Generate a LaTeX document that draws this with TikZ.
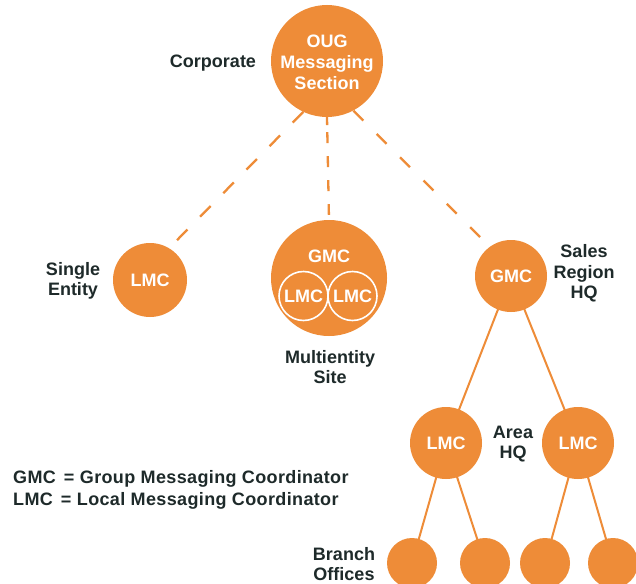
\documentclass[tikz,border=0pt]{standalone}
\usepackage{fontspec}
\setmainfont{Liberation Sans}
\usetikzlibrary{backgrounds}
\definecolor{orng}{RGB}{238,140,56}
\definecolor{ink}{RGB}{30,42,42}
\begin{document}
\begin{tikzpicture}[x=1pt,y=-1pt,
  every node/.style={font=\bfseries\fontsize{18}{21}\selectfont},
  blob/.style={circle,fill=orng,inner sep=0pt,text=white},
  lbl/.style={anchor=base,text=ink,inner sep=0pt},
  legtxt/.style={anchor=base west,text=ink,inner sep=0pt,font=\bfseries\fontsize{18}{21}\selectfont\addfontfeature{LetterSpace=2.0}},
  wtxt/.style={anchor=base,text=white,inner sep=0pt},
  dashline/.style={draw=orng,line width=2.3pt},
  solidline/.style={draw=orng,line width=2pt}]
\useasboundingbox (0,0) rectangle (636,583);

% top
\node[blob,minimum size=112pt] (top) at (327,61) {};
\node[wtxt] (t1) at (327,48) {OUG};
\node[wtxt] (t2) at (327,69) {Messaging};
\node[wtxt] (t3) at (327,90) {Section};
\node[lbl] (corp) at (213,68) {Corporate};

% single entity
\node[blob,minimum size=74pt] (single) at (150,280) {LMC};
\node[lbl] (se1) at (73,275) {Single};
\node[lbl] (se2) at (73,295) {Entity};

% multientity
\node[blob,minimum size=116pt] (multi) at (329,278) {};
\node[wtxt] (gmc) at (329,262) {GMC};
\node[blob,draw=white,line width=1.6pt,minimum size=49pt] (mlA) at (303.5,296) {LMC};
\node[blob,draw=white,line width=1.6pt,minimum size=49pt] (mlB) at (352.5,296) {LMC};
\node[lbl] (me1) at (330,363) {Multientity};
\node[lbl] (me2) at (330,383) {Site};

% sales region
\node[blob,minimum size=72pt] (sales) at (511,276) {GMC};
\node[lbl] (sr1) at (584,257) {Sales};
\node[lbl] (sr2) at (584,278) {Region};
\node[lbl] (sr3) at (584,298) {HQ};

% area
\node[blob,minimum size=72pt] (areaA) at (446,443) {LMC};
\node[blob,minimum size=72pt] (areaB) at (578,443) {LMC};
\node[lbl] (ah1) at (513,438) {Area};
\node[lbl] (ah2) at (513,458) {HQ};

% branches
\node[blob,minimum size=50pt] (b1) at (412,563) {};
\node[blob,minimum size=50pt] (b2) at (485,563) {};
\node[blob,minimum size=50pt] (b3) at (545,563) {};
\node[blob,minimum size=50pt] (b4) at (613,563) {};
\node[lbl] (bo1) at (344,560) {Branch};
\node[lbl] (bo2) at (344,580) {Offices};

% legend
\node[legtxt] (leg1) at (13,483) {GMC\hspace{0.45em}=\hspace{0.3em}Group Messaging Coordinator};
\node[legtxt] (leg2) at (13,505) {LMC\hspace{0.45em}=\hspace{0.3em}Local Messaging Coordinator};

\begin{pgfonlayer}{background}
\fill[white] (0,0) rectangle (636,583);
\draw[dashline,dash pattern=on 15pt off 18pt,shorten >=9pt] (top.245) -- (single.59);
\draw[dashline,dash pattern=on 14pt off 19pt,shorten >=11pt] (top.298) -- (sales.126);
\draw[dashline,dash pattern=on 8pt off 7pt on 11pt off 13pt on 11pt off 13pt on 11pt off 13pt on 11pt off 13pt,shorten >=5pt] (top.south) -- (multi.north);
\draw[solidline] (sales.center) -- (areaA.center);
\draw[solidline] (sales.center) -- (areaB.center);
\draw[solidline] (areaA.center) -- (b1.center);
\draw[solidline] (areaA.center) -- (b2.center);
\draw[solidline] (areaB.center) -- (b3.center);
\draw[solidline] (areaB.center) -- (b4.center);
\end{pgfonlayer}
\end{tikzpicture}
\end{document}
